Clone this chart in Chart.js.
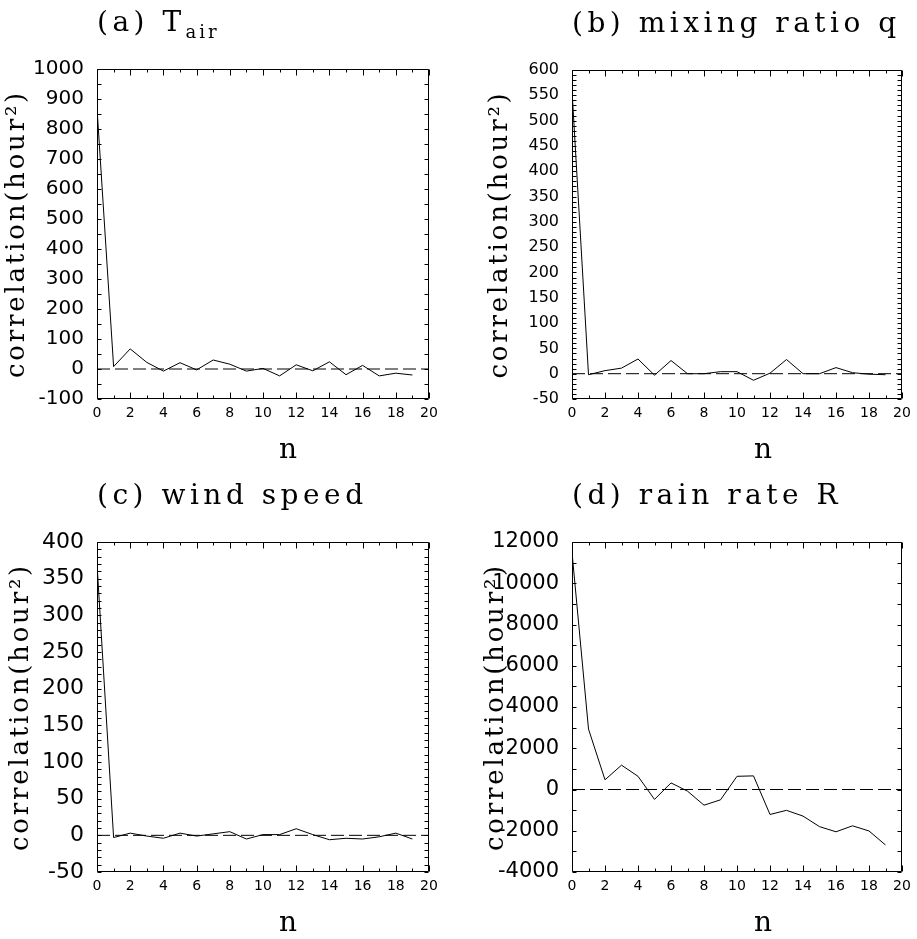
<!DOCTYPE html>
<html>
<head>
<meta charset="utf-8">
<script src="https://cdn.jsdelivr.net/npm/chart.js@4.4.1/dist/chart.umd.min.js"></script>
<style>
html, body { margin: 0; padding: 0; background: #fff; }
#wrap { position: relative; width: 917px; height: 939px; overflow: hidden; background: #fff; }
#wrap canvas { position: absolute; left: 0; top: 0; }
</style>
</head>
<body>
<div id="wrap">
  <canvas id="pa" width="917" height="939"></canvas>
  <canvas id="pb" width="917" height="939"></canvas>
  <canvas id="pc" width="917" height="939"></canvas>
  <canvas id="pd" width="917" height="939"></canvas>
</div>
<script>
// ---- data ----
const lagN = [0, 1, 2, 3, 4, 5, 6, 7, 8, 9, 10, 11, 12, 13, 14, 15, 16, 17, 18, 19];
const tairCorr = [870, 8, 67, 22, -7, 21, -3, 30, 16, -7, 2, -23, 14, -6, 24, -19, 12, -23, -14, -20];
const mixingCorr = [560, -2, 6, 11, 29, -3, 26, 0, 0, 4, 4, -13, 1, 28, 0, 0, 12, 2, -1, -2];
const windCorr = [370, -3, 3, -1, -4, 3, -1, 2, 5, -5, 1, 1, 9, 1, -6, -4, -5, -2, 3, -5];
const rainCorr = [11500, 2930, 470, 1180, 640, -480, 320, -80, -760, -500, 640, 660, -1210, -1010, -1290, -1800, -2050, -1760, -2010, -2690];
const zeroLineN = [0, 20];
const zeroLineVal = [0, 0];
const xTickStep = 2;
const yLabel = 'correlation(hour\u00B2)';
const xLabel = 'n';

// ---- panel settings ----
const panels = [
  { id: 'pa', title: '(a) T', sub: 'air', values: tairCorr, yMin: -100, yMax: 1000, yStep: 100, yMinor: 50,
    area: { l: 97, t: 69, r: 429, b: 399 }, padLeft: 0, tickFont: 20, yTitlePad: 2 },
  { id: 'pb', title: '(b) mixing ratio q', sub: '', values: mixingCorr, yMin: -50, yMax: 600, yStep: 50, yMinor: 10,
    area: { l: 572, t: 70, r: 902, b: 399 }, padLeft: 475, tickFont: 16, yTitlePad: 10 },
  { id: 'pc', title: '(c) wind speed', sub: '', values: windCorr, yMin: -50, yMax: 400, yStep: 50, yMinor: 10,
    area: { l: 97, t: 542, r: 429, b: 872 }, padLeft: 0, tickFont: 22, yTitlePad: 6 },
  { id: 'pd', title: '(d) rain rate R', sub: '', values: rainCorr, yMin: -4000, yMax: 12000, yStep: 2000, yMinor: 1000,
    area: { l: 572, t: 542, r: 902, b: 872 }, padLeft: 475, tickFont: 21, yTitlePad: 6 }
];

const SERIF = '"DejaVu Serif", "Liberation Serif", serif';
const SANS = '"DejaVu Sans", "Liberation Sans", sans-serif';
const X_AXIS_H = 30;

const decorPlugin = {
  id: 'decor',
  beforeDraw(chart) { chart.ctx.letterSpacing = '2.8px'; },
  beforeDatasetsDraw(chart) { chart.ctx.letterSpacing = '0px'; },
  afterDraw(chart, args, opts) {
    const ctx = chart.ctx;
    const a = chart.chartArea;
    const xs = chart.scales.x, ys = chart.scales.y;
    const L = Math.round(a.left) + 0.5, R = Math.round(a.right) - 0.5;
    const T = Math.round(a.top) + 0.5, B = Math.round(a.bottom) - 0.5;
    ctx.save();
    ctx.letterSpacing = '0px';
    ctx.strokeStyle = '#000';
    ctx.lineWidth = 1;
    ctx.beginPath();
    ctx.rect(L, T, R - L, B - T);
    // x ticks (inward, top & bottom)
    for (let v = xs.min; v <= xs.max; v += 1) {
      const px = Math.round(xs.getPixelForValue(v)) + 0.5;
      const len = (v % xTickStep === 0) ? 6 : 3;
      ctx.moveTo(px, B); ctx.lineTo(px, B - len);
      ctx.moveTo(px, T); ctx.lineTo(px, T + len);
    }
    // y ticks (inward, left & right)
    for (let v = ys.min; v <= ys.max + 1e-9; v += opts.yMinor) {
      const py = Math.round(ys.getPixelForValue(v)) + 0.5;
      ctx.moveTo(L, py); ctx.lineTo(L + 4, py);
      ctx.moveTo(R, py); ctx.lineTo(R - 4, py);
    }
    ctx.stroke();
    // panel title
    ctx.fillStyle = '#000';
    ctx.textAlign = 'left';
    ctx.textBaseline = 'alphabetic';
    ctx.font = '28px ' + SERIF;
    ctx.letterSpacing = '4.5px';
    const ty = a.top - 38;
    ctx.fillText(opts.title, a.left, ty);
    if (opts.sub) {
      const w = ctx.measureText(opts.title).width;
      ctx.font = '18px ' + SERIF;
      ctx.letterSpacing = '3px';
      ctx.fillText(opts.sub, a.left + w, ty + 7);
    }
    // x axis title
    ctx.font = '28px ' + SERIF;
    ctx.letterSpacing = '0px';
    ctx.textAlign = 'center';
    ctx.fillText(xLabel, a.left + 191, a.bottom + 59);
    ctx.restore();
  }
};

const plainNumber = (v) => String(v);

panels.forEach(p => {
  const ctx = document.getElementById(p.id).getContext('2d');
  const seriesPts = lagN.map((n, i) => ({ x: n, y: p.values[i] }));
  const zeroPts = zeroLineN.map((n, i) => ({ x: n, y: zeroLineVal[i] }));
  new Chart(ctx, {
    type: 'line',
    data: {
      datasets: [
        { data: seriesPts, borderColor: '#000', borderWidth: 1, pointRadius: 0, tension: 0, fill: false },
        { data: zeroPts, borderColor: '#000', borderWidth: 1, borderDash: [13, 5], pointRadius: 0, fill: false }
      ]
    },
    options: {
      responsive: false,
      animation: false,
      devicePixelRatio: 1,
      layout: {
        padding: {
          left: p.padLeft,
          top: p.area.t,
          right: 917 - p.area.r,
          bottom: 939 - p.area.b - X_AXIS_H
        }
      },
      plugins: {
        legend: { display: false },
        tooltip: { enabled: false },
        title: { display: false },
        decor: { title: p.title, sub: p.sub, yMinor: p.yMinor }
      },
      scales: {
        x: {
          type: 'linear',
          min: 0, max: 20,
          grid: { display: false, drawTicks: false },
          border: { display: false },
          ticks: { stepSize: xTickStep, autoSkip: false, padding: 6, color: '#000', z: 1,
                   callback: plainNumber, font: { family: SANS, size: 14 } },
          afterFit(scale) { scale.height = X_AXIS_H; }
        },
        y: {
          type: 'linear',
          min: p.yMin, max: p.yMax,
          grid: { display: false, drawTicks: false },
          border: { display: false },
          ticks: { stepSize: p.yStep, autoSkip: false, padding: 13, color: '#000', z: 1,
                   callback: plainNumber, font: { family: SANS, size: p.tickFont } },
          title: { display: true, text: yLabel, color: '#000', padding: p.yTitlePad,
                   font: { family: SERIF, size: 26 } },
          afterFit(scale) { scale.width = p.area.l - p.padLeft; }
        }
      }
    },
    plugins: [decorPlugin]
  });
});
</script>
</body>
</html>
